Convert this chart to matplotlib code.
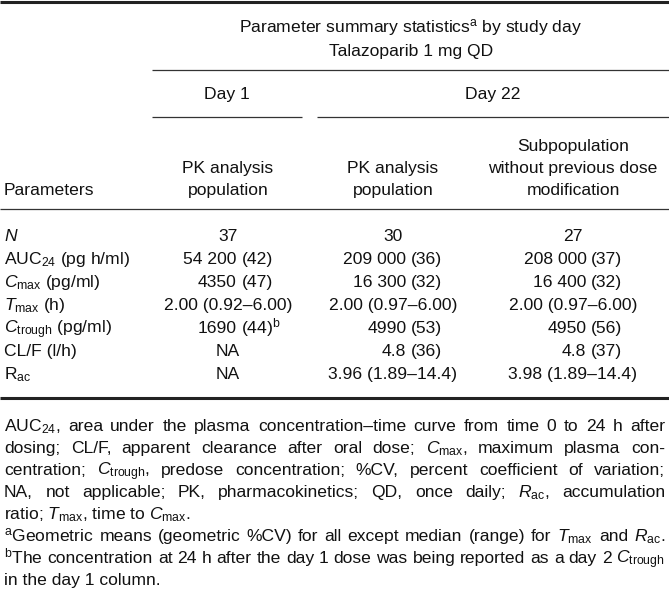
import matplotlib
matplotlib.use("Agg")
import matplotlib.pyplot as plt

plt.rcParams["font.family"] = ["Liberation Sans", "DejaVu Sans"]
plt.rcParams["mathtext.fontset"] = "custom"
plt.rcParams["mathtext.rm"] = "Liberation Sans"
plt.rcParams["mathtext.it"] = "Liberation Sans:italic"
plt.rcParams["mathtext.bf"] = "Liberation Sans:bold"

# ---- table content ----
title_lines = [r"Parameter summary statistics$^{\mathrm{a}}$ by study day",
               "Talazoparib 1 mg QD"]
day_labels = ["Day 1", "Day 22"]
col_headers = [["PK analysis", "population"],
               ["PK analysis", "population"],
               ["Subpopulation", "without previous dose", "modification"]]
param_labels = [r"$N$", r"AUC$_{24}$ (pg h/ml)", r"$C_{\mathrm{max}}$ (pg/ml)",
                r"$T_{\mathrm{max}}$ (h)", r"$C_{\mathrm{trough}}$ (pg/ml)",
                "CL/F (l/h)", r"R$_{\mathrm{ac}}$"]
day1_vals = ["37", "54 200 (42)", "4350 (47)", "2.00 (0.92–6.00)",
             r"1690 (44)$^{\mathrm{b}}$", "NA", "NA"]
day22_vals = ["30", "209 000 (36)", "16 300 (32)", "2.00 (0.97–6.00)",
              "4990 (53)", "4.8 (36)", "3.96 (1.89–14.4)"]
sub_vals = ["27", "208 000 (37)", "16 400 (32)", "2.00 (0.97–6.00)",
            "4950 (56)", "4.8 (37)", "3.98 (1.89–14.4)"]
footnotes = [
    r"AUC$_{24}$, area under the plasma concentration–time curve from time 0 to 24 h after",
    r"dosing; CL/F, apparent clearance after oral dose; $C_{\mathrm{max}}$, maximum plasma con-",
    r"centration; $C_{\mathrm{trough}}$, predose concentration; %CV, percent coefficient of variation;",
    r"NA, not applicable; PK, pharmacokinetics; QD, once daily; $R_{\mathrm{ac}}$, accumulation",
    r"ratio; $T_{\mathrm{max}}$, time to $C_{\mathrm{max}}$.",
    r"$^{\mathrm{a}}$Geometric means (geometric %CV) for all except median (range) for $T_{\mathrm{max}}$ and $R_{\mathrm{ac}}$.",
    r"$^{\mathrm{b}}$The concentration at 24 h after the day 1 dose was being reported as a day 2 $C_{\mathrm{trough}}$",
    "in the day 1 column.",
]
justified = [True, True, True, True, False, True, True, False]

# ---- layout (pixel coordinates, origin top-left) ----
W, H = 669, 598
FS = 12.6
INK = "#111111"
col_x = [228, 393, 573]
row_y = [241, 264, 287, 310, 333, 356, 379]

fig = plt.figure(figsize=(W / 100, H / 100), dpi=100)
ax = fig.add_axes([0, 0, 1, 1])
ax.set_xlim(0, W)
ax.set_ylim(H, 0)
ax.axis("off")
renderer = fig.canvas.get_renderer()


def txt(x, y, s, ha="center", **kw):
    return ax.text(x, y, s, ha=ha, va="baseline", fontsize=FS, color=INK, **kw)


def width(s):
    t = txt(0, 0, s, ha="left")
    w = t.get_window_extent(renderer).width
    t.remove()
    return w


# rules
ax.hlines(2, 0, W, color="#222222", lw=2.2)
ax.hlines(70, 152, W, color="#333333", lw=0.9)
ax.hlines(117, 152, 302, color="#333333", lw=0.9)
ax.hlines(117, 317, W, color="#333333", lw=0.9)
ax.hlines(209, 0, W, color="#333333", lw=0.9)
ax.hlines(398, 0, W, color="#222222", lw=2.2)

# header
txt(411, 32, title_lines[0])
txt(411, 56, title_lines[1])
txt(227, 99, day_labels[0])
txt(493, 99, day_labels[1])
txt(4, 195, "Parameters", ha="left")
for cx, lines in zip(col_x, col_headers):
    for i, line in enumerate(lines):
        txt(cx, 195 - 22 * (len(lines) - 1 - i), line)

# body
for y, lab in zip(row_y, param_labels):
    txt(4, y, lab, ha="left")

for cx, vals in zip(col_x, [day1_vals, day22_vals, sub_vals]):
    # align "(" on the position given by the centred AUC entry
    left, right = vals[1].split(" (")
    full = width(vals[1])
    anchor = cx - full / 2 + width(left)
    gap = width(left + " ") - width(left)
    for y, v in zip(row_y, vals):
        if " (" in v and "–" not in v:
            l, r = v.split(" (")
            txt(anchor, y, l, ha="right")
            txt(anchor + gap, y, "(" + r, ha="left")
        else:
            txt(cx, y, v)

# footnotes
x0, x1 = 4, 665
for i, (line, just) in enumerate(zip(footnotes, justified)):
    y = 431 + 22 * i
    if not just:
        txt(x0, y, line, ha="left")
        continue
    words = line.split(" ")
    ws = [width(w) for w in words]
    sp = (x1 - x0 - sum(ws)) / (len(words) - 1)
    x = x0
    for w, wd in zip(words, ws):
        txt(x, y, w, ha="left")
        x += wd + sp

fig.savefig("out.png", dpi=100)
